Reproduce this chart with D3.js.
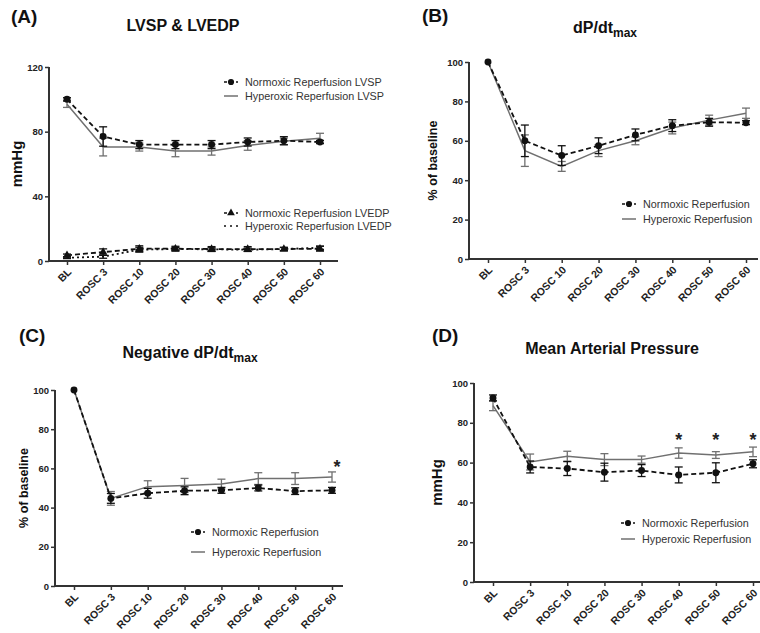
<!DOCTYPE html>
<html>
<head>
<meta charset="utf-8">
<script src="https://cdn.jsdelivr.net/npm/d3@7"></script>
<style>
  body { margin: 0; background: #fff; }
  svg { display: block; font-family: "Liberation Sans", Arial, sans-serif; }
  .tick text { font-weight: bold; fill: #222; }
  .domain, .tick line { stroke: #333; }
</style>
</head>
<body>
<svg width="760" height="633"></svg>
<script>
var timepoints = ["BL", "ROSC 3", "ROSC 10", "ROSC 20", "ROSC 30", "ROSC 40", "ROSC 50", "ROSC 60"];

// (A) LVSP & LVEDP, mmHg
var lvspNormoxic      = [100, 77, 72, 72, 72, 73.6, 74.4, 73.6];
var lvspNormoxicErr   = [1, 6, 2.5, 2.5, 2.5, 2.5, 2.5, 1];
var lvspHyperoxic     = [97, 70.5, 70.5, 68, 68, 71.5, 74, 76];
var lvspHyperoxicErr  = [2, 5.5, 2.5, 3.5, 2.5, 3, 2, 3];
var lvedpNormoxic     = [3.5, 5.5, 7.6, 7.6, 7.4, 7.4, 7.4, 7.6];
var lvedpNormoxicErr  = [0.8, 2, 1.8, 1.5, 1.5, 1.5, 1, 1.5];
var lvedpHyperoxic    = [2, 2.7, 7, 7.4, 7.2, 7, 7.4, 8.2];
var lvedpHyperoxicErr = [0.5, 1, 1.5, 1, 1, 1, 1, 1];

// (B) dP/dtmax, % of baseline
var dpNormoxic     = [100, 60, 52.5, 57.5, 63, 67.7, 69.4, 69.2];
var dpNormoxicErr  = [0, 8, 5, 4, 3, 3, 2, 1];
var dpHyperoxic    = [100, 55, 47, 55, 60, 66.5, 70.5, 74];
var dpHyperoxicErr = [0, 8, 2.5, 3, 2, 3, 2.5, 2.6];

// (C) Negative dP/dtmax, % of baseline
var negNormoxic     = [100, 44.7, 47.3, 48.6, 48.8, 50, 48.4, 48.8];
var negNormoxicErr  = [0, 2.5, 2.5, 2, 1.5, 1.5, 1.7, 1.5];
var negHyperoxic    = [100, 44.7, 50.7, 51.3, 52, 54.8, 54.8, 55.6];
var negHyperoxicErr = [0, 3.5, 3, 3.6, 2.5, 3, 3, 2.6];

// (D) Mean arterial pressure, mmHg
var mapNormoxic     = [92.5, 57.8, 57, 55.2, 56, 53.8, 54.9, 59.4];
var mapNormoxicErr  = [1.5, 3, 3.5, 4.5, 3, 4, 5, 2];
var mapHyperoxic    = [88.6, 60.3, 63.2, 61.5, 61.5, 64.8, 63.8, 65.4];
var mapHyperoxicErr = [2.5, 4, 2.5, 3, 1.8, 2.6, 1.7, 2.4];

var negStars = ["ROSC 60"];
var mapStars = ["ROSC 40", "ROSC 50", "ROSC 60"];

var yTicks120 = [0, 40, 80, 120];
var yTicks100 = [0, 20, 40, 60, 80, 100];

var svg = d3.select("svg");
var black = "#111";
var gray = "#707070";

var zip = function(vals, errs) {
    return vals.map(function(v, i) { return { t: timepoints[i], v: v, e: errs[i] }; });
};

var drawPanel = function(p) {
    var x = d3.scalePoint().domain(timepoints).range([p.bl, p.r60]);
    var y = d3.scaleLinear().domain([0, p.ymax]).range([p.y0, p.ytop]);
    var g = svg.append("g");

    g.append("text").attr("x", p.labelX).attr("y", p.labelY)
        .attr("font-size", 19).attr("font-weight", "bold").attr("fill", "#111")
        .text(p.label);

    var title = g.append("text").attr("x", p.titleX).attr("y", p.titleY)
        .attr("text-anchor", "middle").attr("font-size", 16)
        .attr("font-weight", "bold").attr("fill", "#111");
    title.append("tspan").text(p.title);
    if (p.sub) {
        title.append("tspan").attr("font-size", 12).attr("dy", 4).text(p.sub);
    }

    g.append("text")
        .attr("transform", "translate(" + p.ylabX + "," + ((p.y0 + p.ytop) / 2) + ") rotate(-90)")
        .attr("text-anchor", "middle").attr("font-size", p.ylabSize)
        .attr("font-weight", "bold").attr("fill", "#111")
        .text(p.ylab);

    var yAxis = g.append("g").attr("transform", "translate(" + p.ax + ",0)")
        .call(d3.axisLeft(y).tickValues(p.ticks).tickSize(4).tickPadding(2));
    yAxis.select(".domain").attr("d", "M0," + p.y0 + "V" + p.ytop).attr("stroke-width", 2);
    yAxis.selectAll(".tick line").attr("stroke-width", 1.5);
    yAxis.selectAll(".tick text").attr("font-size", 9.5);

    var xAxis = g.append("g").attr("transform", "translate(0," + p.y0 + ")")
        .call(d3.axisBottom(x).tickSize(4));
    xAxis.select(".domain").attr("d", "M" + p.ax + ",0H" + p.xend).attr("stroke-width", 2);
    xAxis.selectAll(".tick line").attr("stroke-width", 1.5);
    xAxis.selectAll(".tick text")
        .attr("font-size", 10.5)
        .attr("text-anchor", "end")
        .attr("transform", "translate(2,9) rotate(-45)")
        .attr("x", 0).attr("y", 0).attr("dy", "0.35em");

    var line = d3.line().x(function(d) { return x(d.t); }).y(function(d) { return y(d.v); });

    p.series.forEach(function(s) {
        var data = zip(s.vals, s.errs);
        var sg = g.append("g");
        var bars = sg.selectAll(".err").data(data.filter(function(d) { return d.e > 0; }))
            .enter().append("g").attr("stroke", s.color).attr("stroke-width", 1.3);
        bars.append("line")
            .attr("x1", function(d) { return x(d.t); }).attr("x2", function(d) { return x(d.t); })
            .attr("y1", function(d) { return y(d.v - d.e); }).attr("y2", function(d) { return y(d.v + d.e); });
        bars.append("line")
            .attr("x1", function(d) { return x(d.t) - 4; }).attr("x2", function(d) { return x(d.t) + 4; })
            .attr("y1", function(d) { return y(d.v + d.e); }).attr("y2", function(d) { return y(d.v + d.e); });
        bars.append("line")
            .attr("x1", function(d) { return x(d.t) - 4; }).attr("x2", function(d) { return x(d.t) + 4; })
            .attr("y1", function(d) { return y(d.v - d.e); }).attr("y2", function(d) { return y(d.v - d.e); });

        sg.append("path").datum(data).attr("d", line).attr("fill", "none")
            .attr("stroke", s.color).attr("stroke-width", s.width || 1.6)
            .attr("stroke-dasharray", s.dash || null);

        if (s.marker) {
            sg.selectAll(".mk").data(data).enter().append("path")
                .attr("transform", function(d) { return "translate(" + x(d.t) + "," + y(d.v) + ")"; })
                .attr("d", d3.symbol().type(s.marker).size(s.marker === d3.symbolTriangle ? 30 : 38))
                .attr("fill", s.color);
        }
    });

    (p.stars || []).forEach(function(t) {
        g.append("text").attr("x", x(t) + (p.starDx || 0)).attr("y", p.starY)
            .attr("text-anchor", "middle").attr("font-size", 18).attr("font-weight", "bold")
            .attr("fill", "#222").text("*");
    });

    p.legends.forEach(function(l) {
        var lg = g.append("g").attr("transform", "translate(" + l.x + "," + l.y + ")");
        lg.append("line").attr("x1", -7).attr("x2", 7)
            .attr("stroke", l.color).attr("stroke-width", 1.5)
            .attr("stroke-dasharray", l.dash || null);
        if (l.marker) {
            lg.append("path")
                .attr("d", d3.symbol().type(l.marker).size(l.marker === d3.symbolTriangle ? 26 : 30))
                .attr("fill", l.color);
        }
        lg.append("text").attr("x", 14).attr("dy", "0.35em")
            .attr("font-size", 10.8).attr("fill", "#333").text(l.text);
    });
};

var normoxic = function(vals, errs, marker) {
    return { vals: vals, errs: errs, color: black, dash: "5,3", marker: marker || d3.symbolCircle, width: 1.8 };
};
var hyperoxic = function(vals, errs) {
    return { vals: vals, errs: errs, color: gray, width: 1.5 };
};

drawPanel({
    label: "(A)", labelX: 11, labelY: 23, title: "LVSP & LVEDP", titleX: 183, titleY: 31,
    ylab: "mmHg", ylabSize: 15, ylabX: 22, ax: 49, bl: 67, r60: 320, xend: 338, y0: 261, ytop: 67, ymax: 120, ticks: yTicks120,
    series: [
        hyperoxic(lvspHyperoxic, lvspHyperoxicErr),
        normoxic(lvspNormoxic, lvspNormoxicErr),
        { vals: lvedpHyperoxic, errs: lvedpHyperoxicErr, color: black, dash: "2,3", width: 1.8 },
        normoxic(lvedpNormoxic, lvedpNormoxicErr, d3.symbolTriangle)
    ],
    legends: [
        { x: 231, y: 82, color: black, dash: "3,3", marker: d3.symbolCircle, text: "Normoxic Reperfusion LVSP" },
        { x: 231, y: 96, color: gray, text: "Hyperoxic Reperfusion LVSP" },
        { x: 231, y: 213, color: black, dash: "3,3", marker: d3.symbolTriangle, text: "Normoxic Reperfusion LVEDP" },
        { x: 231, y: 226, color: black, dash: "2,4", text: "Hyperoxic Reperfusion LVEDP" }
    ]
});

drawPanel({
    label: "(B)", labelX: 422, labelY: 22, title: "dP/dt", sub: "max", titleX: 605, titleY: 33,
    ylab: "% of baseline", ylabSize: 12.5, ylabX: 437, ax: 469, bl: 488, r60: 746, xend: 758, y0: 259, ytop: 62, ymax: 100, ticks: yTicks100,
    series: [ hyperoxic(dpHyperoxic, dpHyperoxicErr), normoxic(dpNormoxic, dpNormoxicErr) ],
    legends: [
        { x: 629, y: 204, color: black, dash: "3,3", marker: d3.symbolCircle, text: "Normoxic Reperfusion" },
        { x: 629, y: 219, color: gray, text: "Hyperoxic Reperfusion" }
    ]
});

drawPanel({
    label: "(C)", labelX: 19, labelY: 342, title: "Negative dP/dt", sub: "max", titleX: 190, titleY: 358,
    ylab: "% of baseline", ylabSize: 12.5, ylabX: 28, ax: 55, bl: 74, r60: 332, xend: 343, y0: 586, ytop: 390, ymax: 100, ticks: yTicks100,
    series: [ hyperoxic(negHyperoxic, negHyperoxicErr), normoxic(negNormoxic, negNormoxicErr) ],
    stars: negStars, starY: 473, starDx: 5,
    legends: [
        { x: 198, y: 532, color: black, dash: "3,3", marker: d3.symbolCircle, text: "Normoxic Reperfusion" },
        { x: 198, y: 552, color: gray, text: "Hyperoxic Reperfusion" }
    ]
});

drawPanel({
    label: "(D)", labelX: 432, labelY: 342, title: "Mean Arterial Pressure", titleX: 612, titleY: 354,
    ylab: "mmHg", ylabSize: 15, ylabX: 442, ax: 474, bl: 493, r60: 753, xend: 760, y0: 582, ytop: 383, ymax: 100, ticks: yTicks100,
    series: [ hyperoxic(mapHyperoxic, mapHyperoxicErr), normoxic(mapNormoxic, mapNormoxicErr) ],
    stars: mapStars, starY: 446,
    legends: [
        { x: 628, y: 523, color: black, dash: "3,3", marker: d3.symbolCircle, text: "Normoxic Reperfusion" },
        { x: 628, y: 539, color: gray, text: "Hyperoxic Reperfusion" }
    ]
});
</script>
</body>
</html>
